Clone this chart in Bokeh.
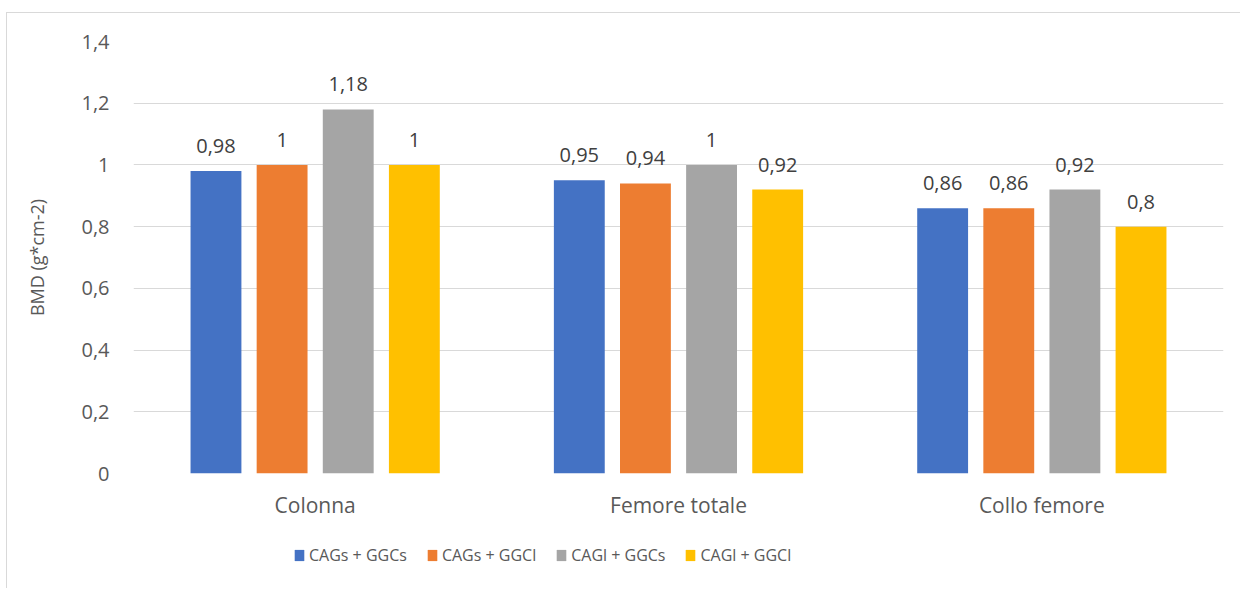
from bokeh.plotting import figure
from bokeh.models import FactorRange, ColumnDataSource, Legend, LegendItem, FixedTicker, Range1d
from bokeh.layouts import column
from bokeh.transform import dodge
from bokeh.core.properties import value
from bokeh.embed import file_html
from bokeh.resources import INLINE

categories = ["Colonna", "Femore totale", "Collo femore"]
series_names = ["CAGs + GGCs", "CAGs + GGCl", "CAGl + GGCs", "CAGl + GGCl"]
s1 = [0.98, 0.95, 0.86]
s2 = [1.0, 0.94, 0.86]
s3 = [1.18, 1.0, 0.92]
s4 = [1.0, 0.92, 0.8]
colors = ["#4472C4", "#ED7D31", "#A5A5A5", "#FFC000"]
y_ticks = [0, 0.2, 0.4, 0.6, 0.8, 1.0, 1.2, 1.4]

FONT = "Open Sans"

def fmt(v):
    return f"{v:g}".replace(".", ",")

p = figure(x_range=FactorRange(factors=categories, range_padding=0),
           y_range=(0, 1.4), width=1234, height=517,
           output_backend="svg", toolbar_location=None,
           min_border_left=126, min_border_right=18, min_border_top=28,
           min_border_bottom=57)
p.margin = (12, 0, 0, 6)
p.styles = {"border-left": "1px solid #d9d9d9", "border-top": "1px solid #d9d9d9"}
p.outline_line_color = None
p.background_fill_color = "white"
p.border_fill_color = "white"

p.xgrid.grid_line_color = None
p.ygrid.grid_line_color = "#d9d9d9"
p.ygrid.grid_line_width = 1
p.yaxis.ticker = FixedTicker(ticks=y_ticks)
p.yaxis.major_label_overrides = {t: fmt(t) for t in y_ticks}

for ax in (p.xaxis[0], p.yaxis[0]):
    ax.axis_line_color = None
    ax.major_tick_line_color = None
    ax.minor_tick_line_color = None
    ax.major_tick_out = 0
    ax.major_label_text_font = FONT
    ax.major_label_text_color = "#595959"
p.xaxis.major_label_text_font_size = "21px"
p.yaxis.major_label_text_font_size = "20px"
p.xaxis.major_label_standoff = 17
p.yaxis.major_label_standoff = 24
p.yaxis.axis_label = "BMD (g*cm-2)"
p.yaxis.axis_label_text_font = FONT
p.yaxis.axis_label_text_font_size = "18px"
p.yaxis.axis_label_text_font_style = "normal"
p.yaxis.axis_label_text_color = "#595959"
p.yaxis.axis_label_standoff = 29

offsets = [-0.273, -0.091, 0.091, 0.273]
for name, vals, col, off in zip(series_names, [s1, s2, s3, s4], colors, offsets):
    src = ColumnDataSource(dict(cat=categories, val=vals, lab=[fmt(v) for v in vals]))
    p.vbar(x=dodge("cat", off, range=p.x_range), top="val", width=0.14,
           source=src, fill_color=col, line_color=None)
    p.text(x=dodge("cat", off, range=p.x_range), y="val", text="lab", source=src,
           text_font=value(FONT), text_font_size="20px", text_color="#404040",
           text_align="center", text_baseline="middle", y_offset=-25)

# legend strip below the chart (its frame is aligned with the chart's frame)
lg = figure(width=1234, height=59, x_range=Range1d(0, 1), y_range=Range1d(0, 1),
            output_backend="svg", toolbar_location=None,
            x_axis_type=None, y_axis_type=None,
            min_border_left=0, min_border_right=0, min_border_top=0, min_border_bottom=0)
lg.margin = (0, 0, 0, 6)
lg.styles = {"border-left": "1px solid #d9d9d9"}
lg.outline_line_color = None
lg.xgrid.visible = False
lg.ygrid.visible = False
items = []
for name, col in zip(series_names, colors):
    r = lg.vbar(x=[-10], top=[0], width=0.1, fill_color=col, line_color=None)
    items.append(LegendItem(label=name, renderers=[r]))
legend = Legend(items=items, orientation="horizontal", location=(160, 22),
                glyph_width=12, glyph_height=14, label_standoff=4, spacing=19,
                padding=0, margin=0, border_line_color=None,
                background_fill_alpha=0, label_text_font=FONT,
                label_text_font_size="16px", label_text_color="#595959")
lg.add_layout(legend)

layout = column(p, lg, spacing=0)
open("out.html", "w").write(file_html(layout, INLINE))
